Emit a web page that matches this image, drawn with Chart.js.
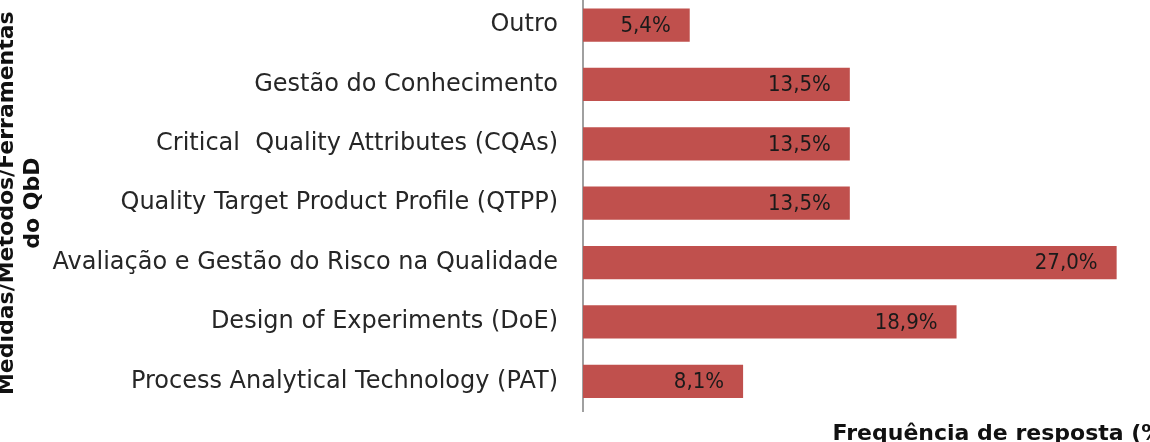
<!DOCTYPE html>
<html>
<head>
<meta charset="utf-8">
<script src="https://cdn.jsdelivr.net/npm/chart.js@4"></script>
<style>
    html, body { margin: 0; padding: 0; background: #fff; overflow: hidden; }
    body { width: 1150px; height: 442px; position: relative; }
    #wrap { position: absolute; left: -6px; top: -44px; width: 1429px; height: 520px; }
</style>
</head>
<body>
<div id="wrap"><canvas id="chart"></canvas></div>
<script>
const categories = [
    'Outro',
    'Gestão do Conhecimento',
    'Critical  Quality Attributes (CQAs)',
    'Quality Target Product Profile (QTPP)',
    'Avaliação e Gestão do Risco na Qualidade',
    'Design of Experiments (DoE)',
    'Process Analytical Technology (PAT)'
];
const frequencies = [5.4, 13.5, 13.5, 13.5, 27.0, 18.9, 8.1];
const xAxisTitle = 'Frequência de resposta (%)';
const yAxisTitle = ['Medidas/Métodos/Ferramentas', 'do QbD'];

const barColor = '#C0504D';

// writes the value near the end of each bar
const valueLabels = {
    id: 'valueLabels',
    afterDatasetsDraw(chart) {
        const ctx = chart.ctx;
        const meta = chart.getDatasetMeta(0);
        ctx.save();
        ctx.font = '22px "DejaVu Sans Condensed", "DejaVu Sans"';
        ctx.fillStyle = '#1a1a1a';
        ctx.textAlign = 'right';
        ctx.textBaseline = 'middle';
        meta.data.forEach((bar, i) => {
            const txt = frequencies[i].toFixed(1).replace('.', ',') + '%';
            ctx.fillText(txt, bar.x - 19, bar.y + 1);
        });
        ctx.restore();
    }
};

new Chart(document.getElementById('chart'), {
    type: 'bar',
    data: {
        labels: categories,
        datasets: [{
            data: frequencies,
            backgroundColor: barColor,
            borderWidth: 0,
            barPercentage: 0.56,
            categoryPercentage: 1
        }]
    },
    options: {
        indexAxis: 'y',
        responsive: true,
        maintainAspectRatio: false,
        animation: false,
        layout: { padding: 0 },
        plugins: {
            legend: { display: false },
            tooltip: { enabled: false }
        },
        scales: {
            x: {
                min: 0,
                max: 42.5,
                grid: { display: false, drawTicks: false },
                border: { display: false },
                ticks: { display: false },
                title: {
                    display: true,
                    text: xAxisTitle,
                    color: '#111',
                    font: { family: 'DejaVu Sans', size: 22, weight: 'bold', lineHeight: 1.1 },
                    padding: { top: 0, bottom: 30 }
                },
                afterFit(scale) { scale.height = 65; }
            },
            y: {
                grid: { display: false, drawTicks: false },
                border: { display: true, color: '#a0a0a0', width: 2 },
                ticks: {
                    color: '#262626',
                    padding: 25,
                    font: { family: 'DejaVu Sans', size: 24 }
                },
                title: {
                    display: true,
                    text: yAxisTitle,
                    color: '#111',
                    font: { family: 'DejaVu Sans', size: 22, weight: 'bold', lineHeight: 1.2 },
                    padding: 0
                },
                afterFit(scale) { scale.width = 589; }
            }
        }
    },
    plugins: [valueLabels]
});
</script>
</body>
</html>
